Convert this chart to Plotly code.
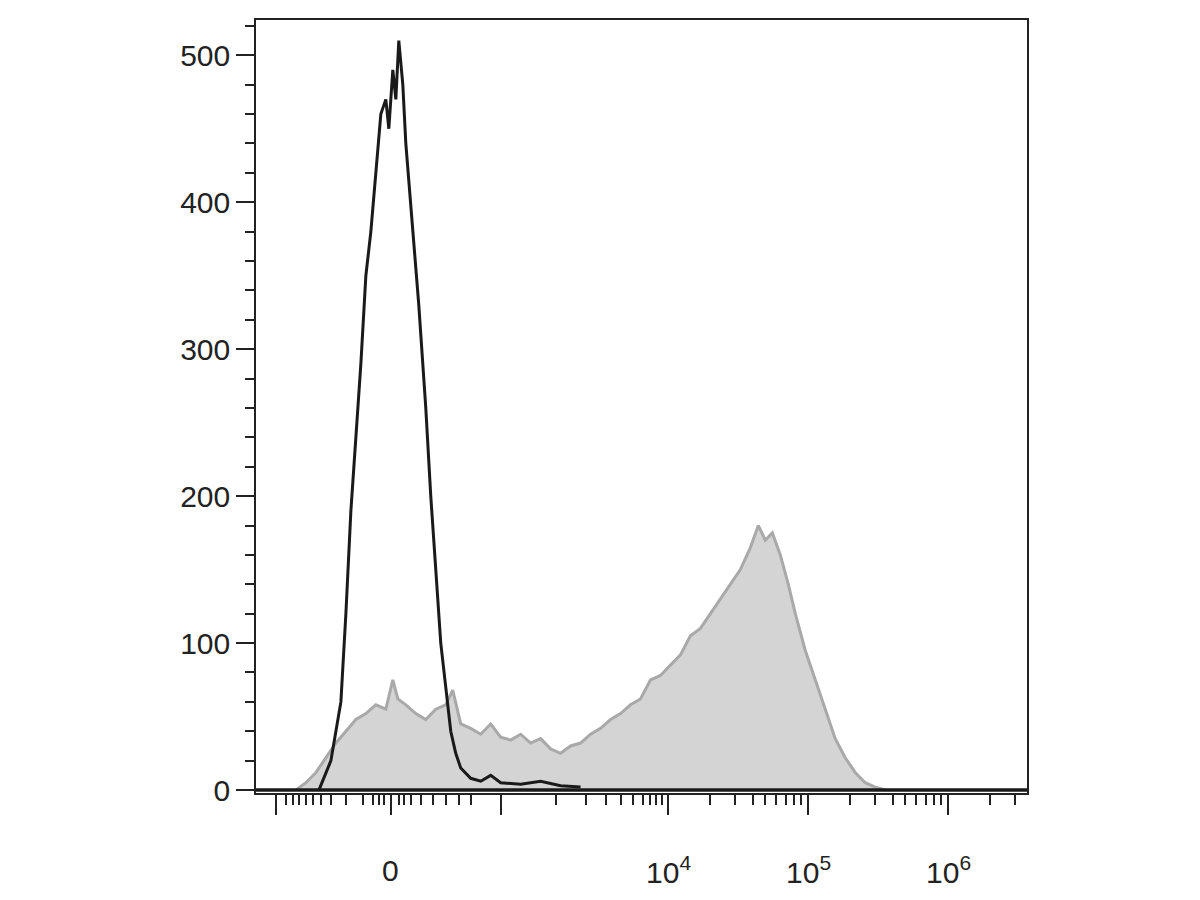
import plotly.graph_objects as go

# x positions in decade display units (10^4 -> 4, "0" sits near 2)
px_black = [318, 330, 340, 345, 350, 355, 360, 365, 370, 375, 380, 385, 388, 392, 395, 398, 402, 405, 410, 418, 425, 430, 435, 440, 445, 450, 455, 460, 470, 480, 490, 500, 520, 540, 560, 580]
y_black = [0, 20, 60, 120, 190, 240, 290, 350, 380, 420, 460, 470, 450, 490, 470, 510, 480, 440, 400, 330, 260, 200, 150, 100, 70, 40, 25, 15, 8, 6, 10, 5, 4, 6, 3, 2]

px_gray = [295, 305, 315, 325, 335, 345, 355, 365, 375, 385, 392, 397, 405, 415, 425, 435, 445, 452, 460, 470, 480, 490, 500, 510, 520, 530, 540, 550, 560, 570, 580, 590, 600, 610, 620, 630, 640, 650, 660, 670, 680, 690, 700, 710, 720, 730, 740, 750, 758, 765, 772, 780, 788, 795, 805, 815, 825, 835, 845, 855, 865, 875, 885]
y_gray = [0, 5, 12, 22, 32, 40, 48, 52, 58, 55, 75, 62, 58, 52, 48, 55, 58, 68, 45, 42, 38, 45, 36, 34, 38, 32, 35, 28, 25, 30, 32, 38, 42, 48, 52, 58, 62, 75, 78, 85, 92, 105, 110, 120, 130, 140, 150, 165, 180, 170, 175, 160, 140, 120, 95, 75, 55, 35, 22, 12, 5, 2, 0]

def to_units(p):
    return (p - 668) / 140 + 4

x_black = [to_units(p) for p in px_black]
x_gray = [to_units(p) for p in px_gray]

major_ticks = [to_units(p) for p in [275, 390, 500, 668, 808, 948]]
minor_px = [285, 292, 298, 305, 312, 320, 330, 345, 362, 372, 378, 383, 398, 403, 410, 420, 432, 445, 458, 470,
            555, 585, 605, 620, 632, 642, 650, 656, 662, 710, 735, 753, 765, 776, 786, 794, 801,
            850, 875, 893, 905, 916, 926, 934, 941, 990, 1015]
minor_ticks = [to_units(p) for p in minor_px]

fig = go.Figure()
fig.add_trace(go.Scatter(x=x_gray, y=y_gray, mode="lines", fill="tozeroy",
                         line=dict(color="#a9a9a9", width=3), fillcolor="#d4d4d4"))
fig.add_trace(go.Scatter(x=x_black, y=y_black, mode="lines",
                         line=dict(color="#1a1a1a", width=3)))
fig.add_trace(go.Scatter(x=[to_units(255), to_units(1027)], y=[0, 0], mode="lines",
                         line=dict(color="#1a1a1a", width=3.5)))

fig.update_layout(
    width=1200, height=900, showlegend=False,
    plot_bgcolor="white", paper_bgcolor="white",
    margin=dict(l=248, r=181, t=10, b=115),
    font=dict(family="Liberation Sans, Arial", size=30, color="#222"),
    xaxis=dict(range=[to_units(255), to_units(1027)], showgrid=False, zeroline=False,
               showline=True, linecolor="#222", linewidth=1.5, mirror=True,
               tickvals=major_ticks, ticktext=[""] * len(major_ticks),
               ticks="outside", ticklen=20, tickwidth=2, tickcolor="#222",
               minor=dict(tickvals=minor_ticks, ticks="outside", ticklen=10, tickwidth=2, tickcolor="#222")),
    yaxis=dict(range=[-2, 524], showgrid=False, zeroline=False,
               showline=True, linecolor="#222", linewidth=1.5, mirror=True,
               tickvals=[0, 100, 200, 300, 400, 500], tickfont=dict(size=30),
               ticks="outside", ticklen=18, tickwidth=2, tickcolor="#222",
               minor=dict(dtick=20, ticks="outside", ticklen=9, tickwidth=2, tickcolor="#222")),
)

for p, label in [(390, "0"), (668, "10<sup>4</sup>"), (808, "10<sup>5</sup>"), (948, "10<sup>6</sup>")]:
    fig.add_annotation(x=to_units(p), y=-0.1, xref="x", yref="paper", text=label,
                       showarrow=False, font=dict(size=30, color="#222"), yanchor="middle")

fig.write_html("out.html")
